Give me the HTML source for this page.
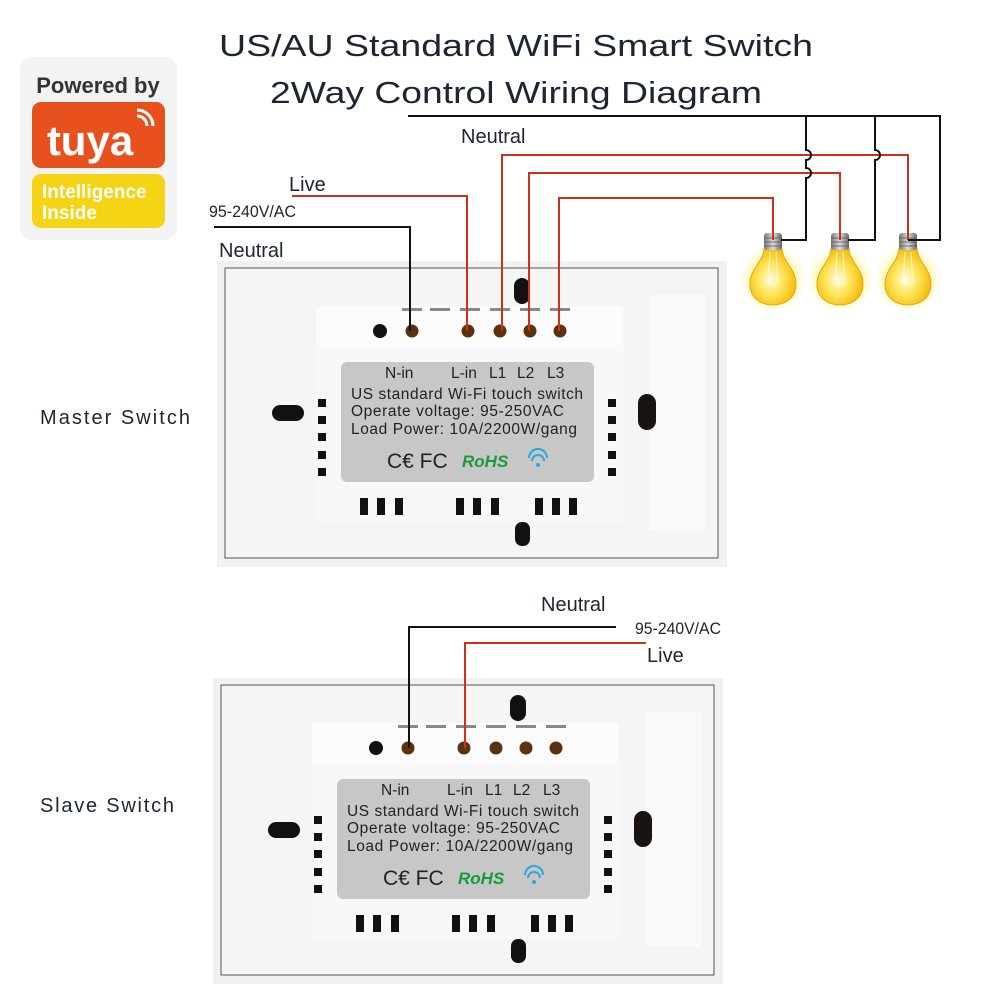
<!DOCTYPE html>
<html><head><meta charset="utf-8"><style>
html,body{margin:0;padding:0;background:#fff;}
svg{display:block;font-family:"Liberation Sans",sans-serif;}
</style></head><body>
<svg width="1002" height="1002" viewBox="0 0 1002 1002" xmlns="http://www.w3.org/2000/svg">
<defs>
<radialGradient id="glass" cx="0.45" cy="0.55" r="0.6">
<stop offset="0" stop-color="#fffbe0"/><stop offset="0.45" stop-color="#ffe55a"/><stop offset="1" stop-color="#f2b400"/></radialGradient>
<radialGradient id="glow" cx="0.5" cy="0.5" r="0.5">
<stop offset="0.6" stop-color="#fff3a0" stop-opacity="0.9"/><stop offset="1" stop-color="#fff8c0" stop-opacity="0"/></radialGradient>
<linearGradient id="metal" x1="0" x2="1"><stop offset="0" stop-color="#777"/><stop offset="0.5" stop-color="#ddd"/><stop offset="1" stop-color="#666"/></linearGradient>
<g id="bulb">
<ellipse cx="0" cy="279" rx="34" ry="34" fill="url(#glow)"/>
<path d="M-9,248 C-9,262 -23,268 -23,284 C-23,298 -12,305 0,305 C12,305 23,298 23,284 C23,268 9,262 9,248 Z" fill="url(#glass)" stroke="#e6a800" stroke-width="1"/>
<path d="M-3,252 L-5,284 M3,252 L5,284 M-5,284 L5,284" stroke="#fff" stroke-width="1" fill="none" opacity="0.8"/>
<rect x="-9" y="233" width="18" height="17" rx="3" fill="url(#metal)"/>
<path d="M-9,238 H9 M-9,242 H9 M-9,246 H9" stroke="#555" stroke-width="0.8"/>
</g>
<g id="sw">
<rect x="217" y="261" width="510" height="306" fill="#f1f1f1"/>
<rect x="225" y="268" width="493" height="290" fill="#f5f5f5" stroke="#555" stroke-width="1"/>
<rect x="650" y="295" width="55" height="235" fill="#fafafa"/>
<rect x="316" y="306" width="307" height="42" fill="#fbfbfb"/>
<rect x="315" y="346" width="309" height="176" fill="#f8f8f8"/>
<rect x="341" y="362" width="253" height="120" rx="6" fill="#c7c7c7"/>
<g fill="#888"><rect x="402" y="308" width="20" height="3"/><rect x="430" y="308" width="20" height="3"/><rect x="460" y="308" width="20" height="3"/><rect x="490" y="308" width="20" height="3"/><rect x="520" y="308" width="20" height="3"/><rect x="550" y="308" width="20" height="3"/></g>
<circle cx="380" cy="331" r="7" fill="#111"/>
<g fill="#5a3210"><circle cx="412" cy="331" r="6.5"/><circle cx="468" cy="331" r="6.5"/><circle cx="500" cy="331" r="6.5"/><circle cx="530" cy="331" r="6.5"/><circle cx="560" cy="331" r="6.5"/></g>
<rect x="514" y="278" width="16" height="26" rx="8" fill="#111"/>
<rect x="272" y="405" width="32" height="16" rx="8" fill="#111"/>
<rect x="638" y="394" width="18" height="36" rx="9" fill="#1a1410"/>
<rect x="515" y="522" width="15" height="24" rx="7" fill="#111"/>
<g fill="#111">
<rect x="318" y="399" width="8" height="8"/><rect x="318" y="416" width="8" height="8"/><rect x="318" y="433" width="8" height="8"/><rect x="318" y="451" width="8" height="8"/><rect x="318" y="468" width="8" height="8"/>
<rect x="608" y="399" width="8" height="8"/><rect x="608" y="416" width="8" height="8"/><rect x="608" y="433" width="8" height="8"/><rect x="608" y="451" width="8" height="8"/><rect x="608" y="468" width="8" height="8"/>
<rect x="360" y="498" width="8" height="17"/><rect x="377" y="498" width="8" height="17"/><rect x="395" y="498" width="8" height="17"/>
<rect x="456" y="498" width="8" height="17"/><rect x="473" y="498" width="8" height="17"/><rect x="491" y="498" width="8" height="17"/>
<rect x="535" y="498" width="8" height="17"/><rect x="552" y="498" width="8" height="17"/><rect x="569" y="498" width="8" height="17"/>
</g>
<g font-size="15.5" fill="#222">
<text x="385" y="378">N-in</text><text x="451" y="378">L-in</text><text x="489" y="378">L1</text><text x="517" y="378">L2</text><text x="547" y="378">L3</text>
<text x="351" y="399" textLength="232">US standard Wi-Fi touch switch</text>
<text x="351" y="416" textLength="213">Operate voltage: 95-250VAC</text>
<text x="351" y="434" textLength="226">Load Power: 10A/2200W/gang</text>
<text x="387" y="468" font-size="21">C€ FC</text>
<text x="462" y="467" font-size="17" font-weight="bold" font-style="italic" fill="#1a9a3c">RoHS</text>
</g>
<g fill="none" stroke="#2aa8e0" stroke-width="2"><path d="M529,458 a9,9 0 0 1 18,0"/><path d="M532,461 a6,6 0 0 1 12,0"/></g>
<circle cx="538" cy="465" r="2" fill="#2aa8e0"/>
</g>
</defs>

<!-- Title -->
<text x="516" y="56" font-size="31" text-anchor="middle" fill="#1c2530" textLength="594" lengthAdjust="spacingAndGlyphs">US/AU Standard WiFi  Smart Switch</text>
<text x="516" y="103" font-size="31" text-anchor="middle" fill="#1c2530" textLength="492" lengthAdjust="spacingAndGlyphs">2Way Control Wiring Diagram</text>

<!-- Tuya -->
<rect x="20" y="57" width="157" height="183" rx="12" fill="#f3f3f3"/>
<text x="98" y="93" font-size="22" font-weight="bold" text-anchor="middle" fill="#333">Powered by</text>
<rect x="32" y="102" width="133" height="66" rx="9" fill="#e8501e"/>
<text x="90" y="155" font-size="42" font-weight="bold" text-anchor="middle" fill="#fff">tuya</text>
<path d="M137,116 a10,10 0 0 1 10,10 M137,110 a16,16 0 0 1 16,16" stroke="#fff" stroke-width="3" fill="none"/>
<rect x="32" y="174" width="133" height="54" rx="9" fill="#f5d416"/>
<text x="42" y="198" font-size="19" font-weight="bold" fill="#fff">Intelligence</text>
<text x="42" y="219" font-size="19" font-weight="bold" fill="#fff">Inside</text>

<use href="#sw"/>
<use href="#sw" transform="translate(-4,417)"/>

<use href="#bulb" transform="translate(773,0)"/>
<use href="#bulb" transform="translate(840,0)"/>
<use href="#bulb" transform="translate(908,0)"/>

<g fill="none" stroke-width="2">
<path d="M214,227 H410 V331" stroke="#111"/>
<path d="M292,196 H467 V331" stroke="#d03018"/>
<path d="M502,331 V155 H908 V240" stroke="#d03018"/>
<path d="M529,331 V173 H840 V240" stroke="#d03018"/>
<path d="M559,331 V198 H773 V240" stroke="#d03018"/>
<path d="M408,116 H940 V240 H908" stroke="#111"/>
<path d="M806,116 V150 a5,5 0 0 1 0,10 V168 a5,5 0 0 1 0,10 V240 H781" stroke="#111"/>
<path d="M875,116 V150 a5,5 0 0 1 0,10 V240 H848" stroke="#111"/>
<path d="M616,627 H409 V748" stroke="#111"/>
<path d="M646,643 H465 V748" stroke="#d03018"/>
</g>

<g fill="#1c2530">
<text x="461" y="143" font-size="20">Neutral</text>
<text x="289" y="191" font-size="20">Live</text>
<text x="209" y="217" font-size="17" textLength="87" lengthAdjust="spacingAndGlyphs">95-240V/AC</text>
<text x="219" y="257" font-size="20">Neutral</text>
<text x="40" y="424" font-size="20" textLength="150">Master Switch</text>
<text x="40" y="812" font-size="20" textLength="134">Slave Switch</text>
<text x="541" y="611" font-size="20">Neutral</text>
<text x="635" y="634" font-size="17" textLength="86" lengthAdjust="spacingAndGlyphs">95-240V/AC</text>
<text x="647" y="662" font-size="20">Live</text>
</g>
</svg>
</body></html>
